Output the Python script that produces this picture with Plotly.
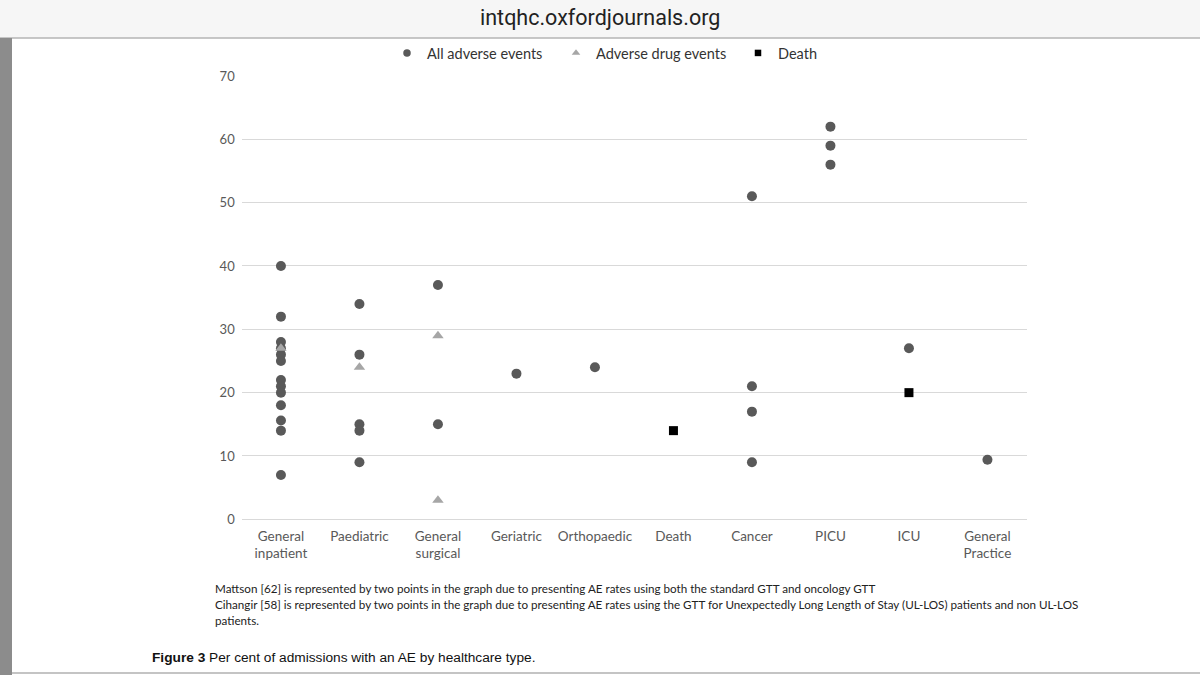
import plotly.graph_objects as go

W, H = 1200, 675

categories = [
    "General<br>inpatient", "Paediatric", "General<br>surgical", "Geriatric",
    "Orthopaedic", "Death", "Cancer", "PICU", "ICU", "General<br>Practice",
]

# all adverse events (circles)
ae_cat = (
    [0] * 13 + [1] * 5 + [2] * 2 + [3] + [4] + [6] * 4 + [7] * 3 + [8] + [9]
)
ae_val = [
    40, 32, 28, 27, 26, 25, 22, 21, 20, 18, 15.6, 14, 7,
    34, 26, 15, 14, 9,
    37, 15,
    23,
    24,
    51, 21, 17, 9,
    62, 59, 56,
    27,
    9.4,
]

# adverse drug events (triangles)
ade_cat = [0, 1, 2, 2]
ade_val = [27, 24, 29, 3]

# death (squares)
death_cat = [5, 8]
death_val = [14, 20]

y_ticks = [0, 10, 20, 30, 40, 50, 60, 70]

footnotes = [
    "Mattson [62] is represented by two points in the graph due to presenting AE rates using both the standard GTT and oncology GTT",
    "Cihangir [58] is represented by two points in the graph due to presenting AE rates using the GTT for Unexpectedly Long Length of Stay (UL-LOS) patients and non UL-LOS",
    "patients.",
]

FONT = "Lato, 'Open Sans', sans-serif"
css = "html, body {margin: 0; padding: 0; overflow: hidden;}"


def px_x(x):
    return x / W


def px_y(y):
    return 1 - y / H


series = [
    ("All adverse events", ae_cat, ae_val, "circle", 10, 7.5, "#595959", "legend", 387),
    ("Adverse drug events", ade_cat, ade_val, "triangle-up", 10, 7.5, "#a6a6a6", "legend2", 556),
    ("Death", death_cat, death_val, "square", 9, 6.5, "#000000", "legend3", 738),
]

fig = go.Figure()
for name, cats, vals, symbol, size, legend_size, color, leg, leg_x in series:
    fig.add_trace(go.Scatter(
        x=[categories[i] for i in cats], y=vals, mode="markers",
        name=name, showlegend=False,
        marker=dict(symbol=symbol, size=size, color=color),
    ))
# legend entries with the smaller legend markers, one legend each so the
# spacing can follow the original
legends = {}
for name, cats, vals, symbol, size, legend_size, color, leg, leg_x in series:
    fig.add_trace(go.Scatter(
        x=[None], y=[None], mode="markers", name=name, legend=leg,
        marker=dict(symbol=symbol, size=legend_size, color=color),
    ))
    legends[leg] = dict(
        orientation="h", x=px_x(leg_x), xanchor="left", y=px_y(53), yanchor="middle",
        font=dict(size=14.5, color="#333333"), bgcolor="rgba(0,0,0,0)",
        itemwidth=30, itemclick=False, itemdoubleclick=False,
    )

fig.update_layout(
    width=W, height=H,
    margin=dict(l=0, r=0, t=0, b=0, autoexpand=False),
    paper_bgcolor="white", plot_bgcolor="white",
    font=dict(family=FONT, color="#595959", size=13),
    showlegend=True,
    xaxis=dict(
        type="category", categoryorder="array", categoryarray=categories,
        range=[-0.5, 9.5], domain=[px_x(241.7), px_x(1026.7)],
        showgrid=False, showline=False, ticks="", tickfont=dict(size=13.5),
        ticklabelstandoff=7, automargin=False, fixedrange=True,
    ),
    yaxis=dict(
        range=[0, 70], domain=[px_y(519.3), px_y(76)],
        tickvals=y_ticks, showgrid=True, gridcolor="#d9d9d9", gridwidth=1,
        zeroline=True, zerolinecolor="#d9d9d9", zerolinewidth=1,
        showline=False, ticks="", tickfont=dict(size=13), ticklabelstandoff=6,
        automargin=False, fixedrange=True,
    ),
    **legends,
)

shapes = [
    # browser address bar
    dict(type="rect", xref="paper", yref="paper", x0=0, x1=1, y0=px_y(38), y1=1,
         fillcolor="#f6f6f6", line=dict(width=0), layer="below"),
    dict(type="line", xref="paper", yref="paper", x0=0, x1=1, y0=px_y(38), y1=px_y(38),
         line=dict(color="#b5b5b5", width=1.5)),
    # left grey strip
    dict(type="rect", xref="paper", yref="paper", x0=0, x1=px_x(12), y0=0, y1=px_y(38),
         fillcolor="#8c8c8c", line=dict(width=0)),
    # bottom rule
    dict(type="line", xref="paper", yref="paper", x0=px_x(12), x1=1, y0=px_y(673), y1=px_y(673),
         line=dict(color="#b0b0b0", width=1.5)),
]

annotations = [
    dict(text="intqhc.oxfordjournals.org", xref="paper", yref="paper",
         x=0.5, y=px_y(18), xanchor="center", yanchor="middle", showarrow=False,
         font=dict(family="'Liberation Sans Narrow', 'Roboto', sans-serif", size=21.5, color="#222222")),
    dict(text="<b>Figure 3</b> Per cent of admissions with an AE by healthcare type.",
         xref="paper", yref="paper", x=px_x(150), y=px_y(657), xanchor="left", yanchor="middle",
         showarrow=False,
         font=dict(family="'Liberation Sans', Arial, sans-serif", size=13.7, color="#111111")),
]
for i, line in enumerate(footnotes):
    annotations.append(dict(
        text=line, xref="paper", yref="paper", x=px_x(213), y=px_y(588 + i * 16),
        xanchor="left", yanchor="middle", showarrow=False,
        font=dict(family=FONT, size=11.65, color="#222222"),
    ))

fig.update_layout(shapes=shapes, annotations=annotations)

fig.write_html("out.html", config={"displayModeBar": False})

# drop the default page margin so the figure sits at 0,0
with open("out.html") as f:
    html = f.read()
html = html.replace("</head>", f"<style>{css}</style></head>", 1)
with open("out.html", "w") as f:
    f.write(html)
